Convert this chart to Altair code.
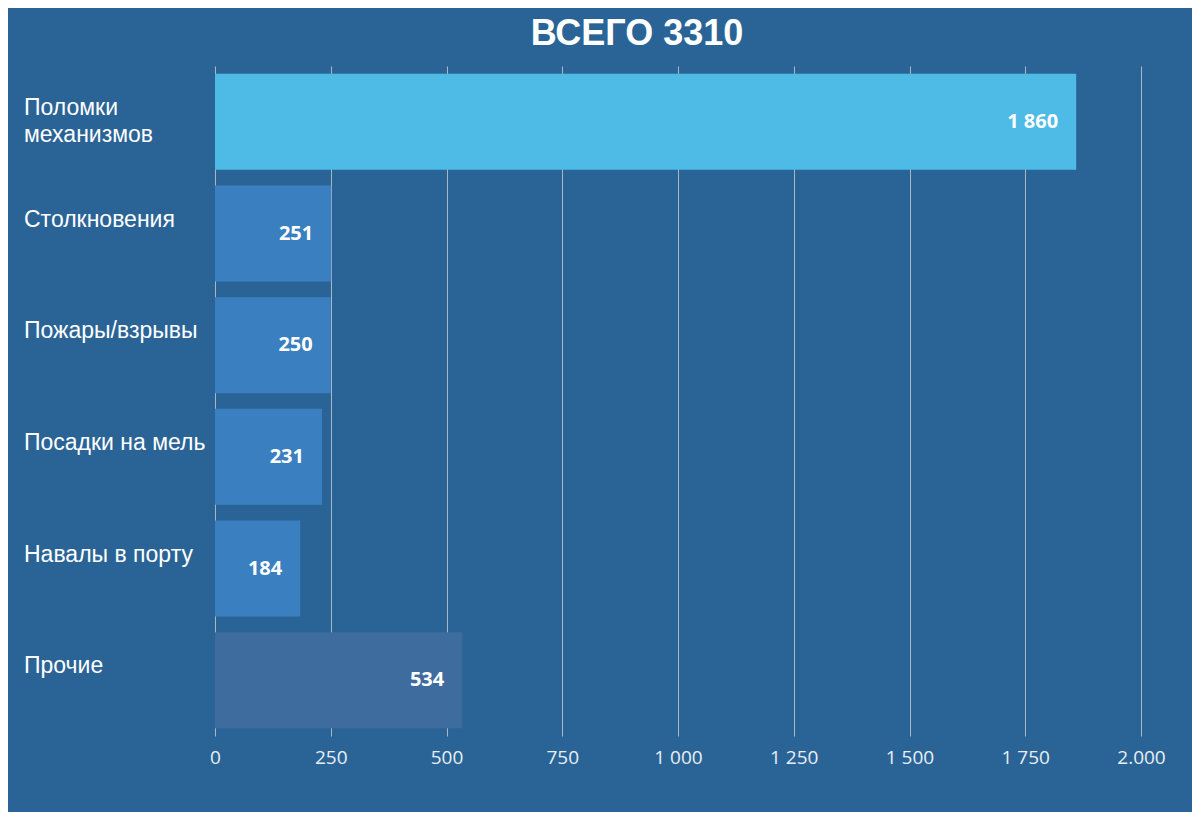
import altair as alt
import pandas as pd

categories = ["Поломки\nмеханизмов", "Столкновения", "Пожары/взрывы", "Посадки на мель", "Навалы в порту", "Прочие"]
values = [1860, 251, 250, 231, 184, 534]
colors = ["#4EBBE6", "#3A80C0", "#3A80C0", "#3A80C0", "#3A80C0", "#3E6C9F"]
title_text = "ВСЕГО 3310"

df = pd.DataFrame({"cat": categories, "value": values, "color": colors})

BG = "#2A6496"

y_enc = alt.Y("cat:N", sort=None, axis=None,
              scale=alt.Scale(paddingInner=0.14, paddingOuter=0.07))

base = alt.Chart(df)

bars = base.mark_bar().encode(
    x=alt.X("value:Q",
            scale=alt.Scale(domain=[0, 2000], nice=False),
            axis=alt.Axis(values=[0, 250, 500, 750, 1000, 1250, 1500, 1750, 2000],
                          title=None, domain=False, ticks=False, labelFlush=False,
                          grid=True, gridColor="#A9B6C4", gridWidth=1,
                          labelColor="#E8EEF4", labelFont="Open Sans", labelFontSize=19,
                          labelPadding=12,
                          labelExpr="datum.value == 2000 ? '2.000' : replace(format(datum.value, ',d'), ',', ' ')")),
    y=y_enc,
    color=alt.Color("color:N", scale=None),
)

vals = base.transform_calculate(
    lbl="replace(format(datum.value, ',d'), ',', ' ')"
).mark_text(align="right", baseline="middle", dx=-18, font="Open Sans",
            fontWeight="bold", fontSize=20, color="white").encode(
    x="value:Q", y=y_enc, text="lbl:N")

cats = base.mark_text(align="left", baseline="middle", x=-191, dy=-14,
                      font="Liberation Sans", fontSize=23, color="white",
                      lineBreak="\n", lineHeight=27).encode(
    y=y_enc, text="cat:N")

chart = alt.layer(bars, vals, cats).properties(
    width=926, height=670,
    background=BG,
    padding={"left": 207, "top": 58, "right": 51, "bottom": 76},
    autosize=alt.AutoSizeParams(type="none"),
    title=alt.TitleParams(title_text, anchor="middle", frame="group", dx=-41,
                          font="Liberation Sans", fontSize=36, fontWeight="bold",
                          color="white", offset=13),
).configure_view(stroke=None)

chart.save("out.html", embed_options={"renderer": "svg", "actions": False})
